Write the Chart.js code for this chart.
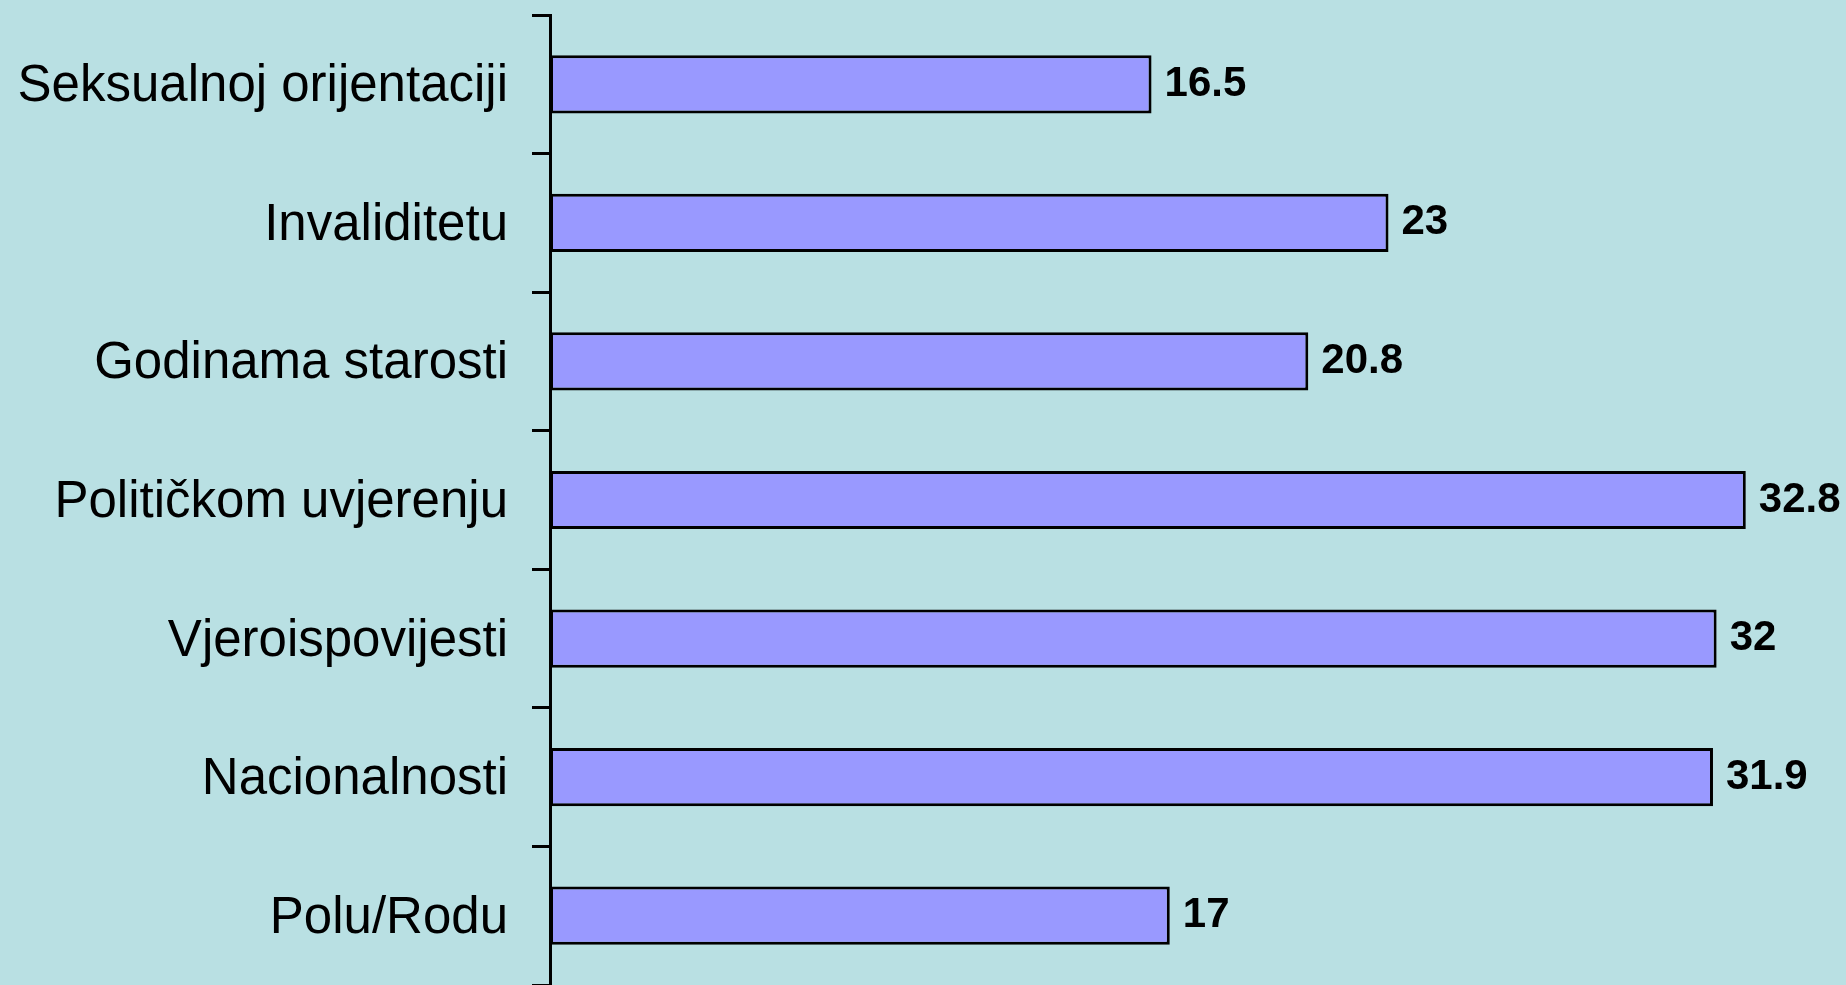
<!DOCTYPE html>
<html>
<head>
<meta charset="utf-8">
<script src="https://cdn.jsdelivr.net/npm/chart.js@4/dist/chart.umd.min.js"></script>
<style>
  html, body { margin: 0; padding: 0; background: #b9e0e3; overflow: hidden; }
  canvas { display: block; background: #b9e0e3; }
</style>
</head>
<body>
<canvas id="c" width="1846" height="985"></canvas>
<script>
const categories = [
  "Seksualnoj orijentaciji",
  "Invaliditetu",
  "Godinama starosti",
  "Političkom uvjerenju",
  "Vjeroispovijesti",
  "Nacionalnosti",
  "Polu/Rodu"
];
const values = [16.5, 23, 20.8, 32.8, 32, 31.9, 17];
const valueLabels = ["16.5", "23", "20.8", "32.8", "32", "31.9", "17"];

const valueLabelPlugin = {
  id: 'valueLabels',
  afterDatasetsDraw(chart) {
    const ctx = chart.ctx;
    const meta = chart.getDatasetMeta(0);
    ctx.save();
    ctx.font = 'bold 42px "Liberation Sans", Arial, sans-serif';
    ctx.fillStyle = '#000';
    ctx.textAlign = 'left';
    ctx.textBaseline = 'middle';
    meta.data.forEach((bar, i) => {
      ctx.fillText(valueLabels[i], bar.x + 13, bar.y);
    });
    ctx.restore();
  }
};

new Chart(document.getElementById('c'), {
  type: 'bar',
  data: {
    labels: categories,
    datasets: [{
      data: values,
      backgroundColor: '#9999ff',
      borderColor: '#000000',
      borderWidth: 3,
      borderSkipped: false,
      barPercentage: 0.42,
      categoryPercentage: 1.0
    }]
  },
  options: {
    indexAxis: 'y',
    responsive: false,
    animation: false,
    devicePixelRatio: 1,
    layout: { padding: { top: 15, bottom: 0, left: 0, right: 20 } },
    plugins: {
      legend: { display: false },
      tooltip: { enabled: false }
    },
    scales: {
      x: {
        display: false,
        min: 0,
        max: 35
      },
      y: {
        afterFit(scale) {
          scale.width = 550;
          scale.paddingTop = 0;
          scale.paddingBottom = 0;
        },
        grid: {
          display: true,
          offset: true,
          drawOnChartArea: false,
          drawTicks: true,
          tickLength: 18,
          color: '#000000',
          lineWidth: 3
        },
        border: { display: true, color: '#000000', width: 3 },
        ticks: {
          color: '#000000',
          padding: 24,
          labelOffset: 3,
          font: { family: '"Liberation Sans", Arial, sans-serif', size: 51 }
        }
      }
    }
  },
  plugins: [valueLabelPlugin]
});
</script>
</body>
</html>
